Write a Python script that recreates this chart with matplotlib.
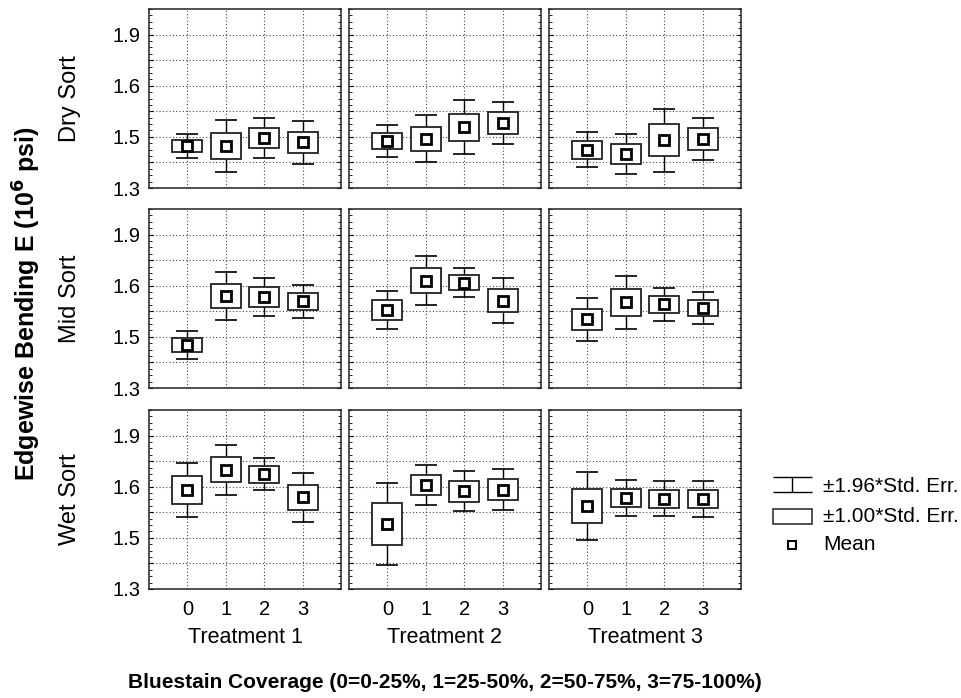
import matplotlib

matplotlib.use("Agg")
import matplotlib.pyplot as plt
import numpy as np
from matplotlib.patches import Rectangle
from matplotlib.ticker import MultipleLocator

plt.rcParams["font.family"] = ["Liberation Sans", "DejaVu Sans"]

# Bluestain coverage class on the x axis of each panel
coverage = [0, 1, 2, 3]
treatments = ["Treatment 1", "Treatment 2", "Treatment 3"]
sorts = ["Dry Sort", "Mid Sort", "Wet Sort"]

# Mean edgewise E (10^6 psi) and its standard error, one list per sort x treatment
dry_t1_mean = [1.464, 1.464, 1.496, 1.478]
dry_t1_se = [0.024, 0.052, 0.040, 0.042]
dry_t2_mean = [1.485, 1.492, 1.537, 1.555]
dry_t2_se = [0.032, 0.047, 0.054, 0.042]
dry_t3_mean = [1.449, 1.434, 1.487, 1.492]
dry_t3_se = [0.035, 0.040, 0.063, 0.042]

mid_t1_mean = [1.468, 1.659, 1.656, 1.639]
mid_t1_se = [0.028, 0.048, 0.038, 0.033]
mid_t2_mean = [1.605, 1.719, 1.711, 1.642]
mid_t2_se = [0.038, 0.049, 0.029, 0.044]
mid_t3_mean = [1.568, 1.635, 1.627, 1.613]
mid_t3_se = [0.042, 0.053, 0.033, 0.032]

wet_t1_mean = [1.686, 1.767, 1.748, 1.659]
wet_t1_se = [0.054, 0.050, 0.032, 0.049]
wet_t2_mean = [1.555, 1.706, 1.682, 1.689]
wet_t2_se = [0.082, 0.040, 0.040, 0.041]
wet_t3_mean = [1.625, 1.656, 1.653, 1.652]
wet_t3_se = [0.068, 0.035, 0.035, 0.035]

grid_means = [
    [dry_t1_mean, dry_t2_mean, dry_t3_mean],
    [mid_t1_mean, mid_t2_mean, mid_t3_mean],
    [wet_t1_mean, wet_t2_mean, wet_t3_mean],
]
grid_ses = [
    [dry_t1_se, dry_t2_se, dry_t3_se],
    [mid_t1_se, mid_t2_se, mid_t3_se],
    [wet_t1_se, wet_t2_se, wet_t3_se],
]

# y scale: gridlines every 0.1, labelled every other line
ytick_vals = [1.3, 1.4, 1.5, 1.6, 1.7, 1.8, 1.9]
ytick_text = ["1.3", "", "1.5", "", "1.6", "", "1.9"]

W, H = 962, 698
fig = plt.figure(figsize=(W / 100, H / 100), dpi=100)

col_left = [149, 349, 549]
row_top = [9, 209, 410]
pw, ph = 192, 179

BOX_W = 0.78
CAP_W = 0.57


def draw_panel(ax, means, ses):
    x = np.array(coverage, dtype=float)
    m = np.array(means)
    s = np.array(ses)
    lo2, hi2 = m - 1.96 * s, m + 1.96 * s
    ax.vlines(x, lo2, hi2, color="black", lw=1.0, zorder=3)
    ax.hlines(lo2, x - CAP_W / 2, x + CAP_W / 2, color="black", lw=1.2, zorder=3)
    ax.hlines(hi2, x - CAP_W / 2, x + CAP_W / 2, color="black", lw=1.2, zorder=3)
    for xi, mi, si in zip(x, m, s):
        ax.add_patch(Rectangle((xi - BOX_W / 2, mi - si), BOX_W, 2 * si,
                               facecolor="white", edgecolor="#222222", lw=1.3, zorder=4))
    ax.plot(x, m, "s", ms=7.5, mfc="white", mec="black", mew=2.0, zorder=5)


for r in range(3):
    for c in range(3):
        ax = fig.add_axes([col_left[c] / W, 1 - (row_top[r] + ph) / H, pw / W, ph / H])
        draw_panel(ax, grid_means[r][c], grid_ses[r][c])
        ax.set_xlim(-1, 4)
        ax.set_ylim(1.3, 2.0)
        ax.set_xticks(coverage)
        ax.set_yticks(ytick_vals)
        ax.yaxis.set_minor_locator(MultipleLocator(0.025))
        ax.grid(True, which="major", linestyle=(0, (1, 2)), color="#444444", lw=0.8)
        ax.set_axisbelow(True)
        ax.tick_params(axis="x", length=0, labelsize=14.5, pad=8)
        ax.tick_params(axis="y", which="both", direction="in", left=True, right=True)
        ax.tick_params(axis="y", which="major", length=3, width=0.8)
        ax.tick_params(axis="y", which="minor", length=2, width=0.6)
        for sp in ax.spines.values():
            sp.set_linewidth(1.1)
            sp.set_color("#222222")
        if c == 0:
            ax.set_yticklabels(ytick_text, fontsize=14.5)
            ax.tick_params(axis="y", pad=6)
        else:
            ax.set_yticklabels([])
        if r == 2:
            ax.set_xticklabels([str(v) for v in coverage])
            ax.set_xlabel(treatments[c], fontsize=15.5, labelpad=6)
        else:
            ax.set_xticklabels([])

# row labels
for r, name in enumerate(sorts):
    fig.text(70 / W, 1 - (row_top[r] + ph / 2) / H, name, rotation=90,
             ha="center", va="center", fontsize=17)

fig.text(27 / W, 1 - 304 / H, r"Edgewise Bending E (10$^{\mathbf{6}}$ psi)", rotation=90,
         ha="center", va="center", fontsize=18, fontweight="bold")
fig.text(445 / W, 1 - 683 / H,
         "Bluestain Coverage (0=0-25%, 1=25-50%, 2=50-75%, 3=75-100%)",
         ha="center", va="center", fontsize=15, fontweight="bold")

# key for whiskers, boxes and mean marker
lg = fig.add_axes([0, 0, 1, 1], zorder=10)
lg.set_xlim(0, W)
lg.set_ylim(H, 0)
lg.axis("off")
lx0, lx1 = 773, 812
lmid = (lx0 + lx1) / 2
lg.hlines([477, 492], lx0, lx1, color="black", lw=1.0)
lg.vlines(lmid, 477, 492, color="black", lw=1.0)
lg.add_patch(Rectangle((lx0, 509), lx1 - lx0, 15, facecolor="white", edgecolor="#222222", lw=1.1))
lg.plot([lmid], [545], "s", ms=6, mfc="white", mec="black", mew=1.5)
key_text = ["\u00b11.96*Std. Err.", "\u00b11.00*Std. Err.", "Mean"]
for ty, t in zip([486, 517, 545], key_text):
    lg.text(823, ty, t, ha="left", va="center", fontsize=15)

fig.savefig("out.png", dpi=100)
